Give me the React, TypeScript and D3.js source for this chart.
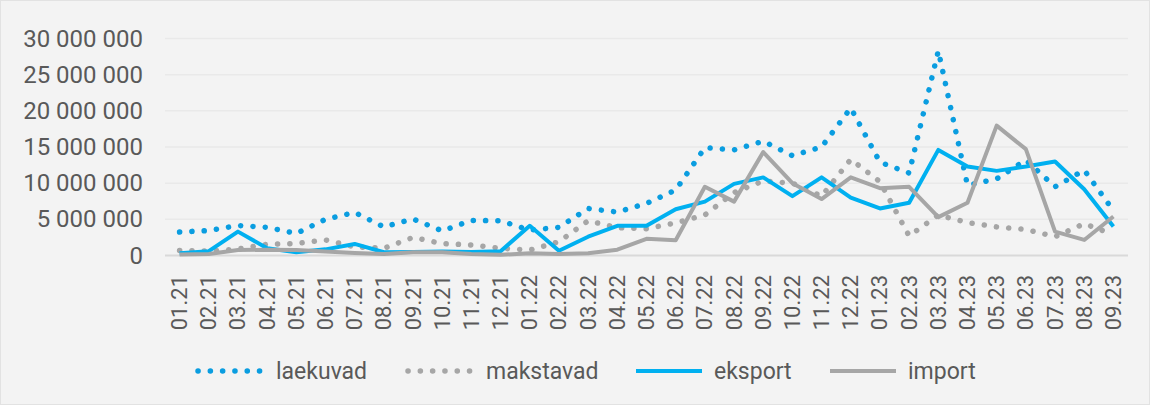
import React from "react";
import * as d3 from "d3";

const categories = [
  "01.21","02.21","03.21","04.21","05.21","06.21","07.21","08.21","09.21","10.21","11.21","12.21",
  "01.22","02.22","03.22","04.22","05.22","06.22","07.22","08.22","09.22","10.22","11.22","12.22",
  "01.23","02.23","03.23","04.23","05.23","06.23","07.23","08.23","09.23",
];

const laekuvad = [
  3.25e6, 3.45e6, 4.15e6, 3.9e6, 3.05e6, 5.0e6, 5.95e6, 3.95e6, 5.05e6, 3.4e6, 4.85e6, 4.8e6,
  3.5e6, 3.9e6, 6.5e6, 6.0e6, 7.2e6, 9.05e6, 14.9e6, 14.6e6, 15.8e6, 13.8e6, 15.0e6, 20.4e6,
  12.9e6, 11.4e6, 28.3e6, 9.7e6, 10.6e6, 13.2e6, 9.5e6, 11.8e6, 6.2e6,
];
const makstavad = [
  0.7e6, 0.6e6, 0.9e6, 1.55e6, 1.65e6, 2.15e6, 1.2e6, 1.0e6, 2.5e6, 1.65e6, 1.45e6, 1.0e6,
  0.75e6, 1.9e6, 4.8e6, 3.85e6, 3.7e6, 4.5e6, 5.6e6, 8.7e6, 10.3e6, 10.0e6, 8.2e6, 13.3e6,
  10.2e6, 2.7e6, 5.6e6, 4.55e6, 3.95e6, 3.6e6, 2.6e6, 4.4e6, 2.9e6,
];
const eksport = [
  0.3e6, 0.6e6, 3.3e6, 1.0e6, 0.45e6, 0.85e6, 1.6e6, 0.45e6, 0.5e6, 0.55e6, 0.5e6, 0.6e6,
  4.1e6, 0.65e6, 2.6e6, 4.1e6, 4.1e6, 6.4e6, 7.45e6, 9.9e6, 10.8e6, 8.2e6, 10.8e6, 8.0e6,
  6.5e6, 7.3e6, 14.6e6, 12.3e6, 11.7e6, 12.3e6, 13.0e6, 9.15e6, 4.0e6,
];
const importVals = [
  0.15e6, 0.2e6, 0.75e6, 0.8e6, 0.75e6, 0.55e6, 0.35e6, 0.2e6, 0.45e6, 0.45e6, 0.2e6, 0.1e6,
  0.3e6, 0.2e6, 0.3e6, 0.8e6, 2.3e6, 2.1e6, 9.5e6, 7.45e6, 14.3e6, 10.0e6, 7.8e6, 10.8e6,
  9.3e6, 9.5e6, 5.3e6, 7.3e6, 17.95e6, 14.7e6, 3.3e6, 2.15e6, 5.4e6,
];

const yTicks = [0, 5e6, 10e6, 15e6, 20e6, 25e6, 30e6];

const seriesNames = ["laekuvad", "makstavad", "eksport", "import"];

const W = 1150;
const H = 405;
const FONT = "Roboto, 'Noto Sans', sans-serif";
const TEXT = "#595959";

const seriesStyle = [
  { color: "#0a9de0", dotted: true },
  { color: "#a6a6a6", dotted: true },
  { color: "#00b0f0", dotted: false },
  { color: "#a6a6a6", dotted: false },
];

const legendX = [198, 408, 636, 830];

export default function App() {
  const x = d3.scaleBand<string>().domain(categories).range([165, 1128]);
  const bw = x.bandwidth();
  const cx = (c: string) => (x(c) as number) + bw / 2;
  const y = d3.scaleLinear().domain([0, 30e6]).range([255.5, 38.5]);
  const locale = d3.formatLocale({ thousands: " ", grouping: [3], decimal: ",", currency: ["", ""] });
  const fmt = locale.format(",d");

  const allSeries = [laekuvad, makstavad, eksport, importVals];
  const line = d3
    .line<number>()
    .x((_, i) => cx(categories[i]))
    .y((d) => y(d));

  return (
    <svg
      width={W}
      height={H}
      style={{ position: "absolute", left: 0, top: 0, display: "block" }}
      fontFamily={FONT}
    >
      <rect x={0.5} y={0.5} width={W - 1} height={H - 1} fill="#f3f3f3" stroke="#e2e2e2" />
      {yTicks.map((t) => (
        <g key={t}>
          {t !== 0 && (
            <line x1={165} x2={1128} y1={y(t)} y2={y(t)} stroke="#e9e9e9" strokeWidth={1.5} />
          )}
          <text
            x={143}
            y={y(t)}
            textAnchor="end"
            dominantBaseline="central"
            fontSize={24}
            fill={TEXT}
          >
            {fmt(t)}
          </text>
        </g>
      ))}
      <line x1={165} x2={1128} y1={y(0)} y2={y(0)} stroke="#d9d9d9" strokeWidth={2} />
      {categories.map((c) => (
        <text
          key={c}
          transform={`translate(${cx(c)},${275}) rotate(-90)`}
          textAnchor="end"
          dominantBaseline="central"
          fontSize={22}
          fill={TEXT}
        >
          {c}
        </text>
      ))}
      {allSeries.map((s, i) => (
        <path
          key={seriesNames[i]}
          d={line(s) || ""}
          fill="none"
          stroke={seriesStyle[i].color}
          strokeWidth={seriesStyle[i].dotted ? 5.5 : 4}
          strokeDasharray={seriesStyle[i].dotted ? "0.1 12.2" : undefined}
          strokeLinecap={seriesStyle[i].dotted ? "round" : "butt"}
          strokeLinejoin="round"
        />
      ))}
      {seriesNames.map((n, i) => (
        <g key={n} transform={`translate(${legendX[i]},371)`}>
          <line
            x1={0}
            x2={66}
            y1={0}
            y2={0}
            stroke={seriesStyle[i].color}
            strokeWidth={seriesStyle[i].dotted ? 5.5 : 4}
            strokeDasharray={seriesStyle[i].dotted ? "0.1 12.2" : undefined}
            strokeLinecap={seriesStyle[i].dotted ? "round" : "butt"}
          />
          <text x={78} y={0} dominantBaseline="central" fontSize={23} fill={TEXT}>
            {n}
          </text>
        </g>
      ))}
    </svg>
  );
}
